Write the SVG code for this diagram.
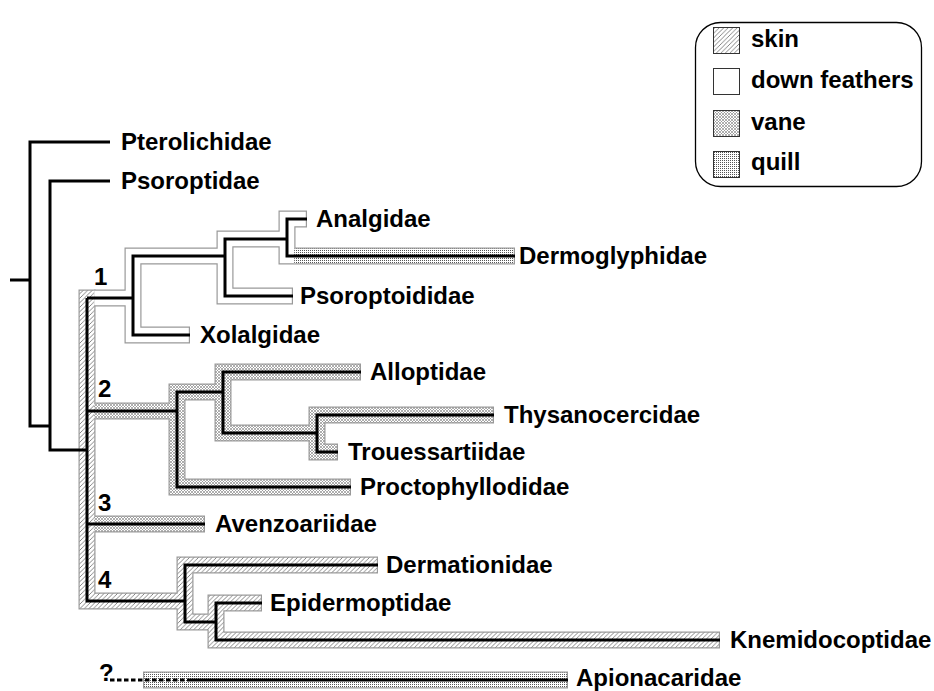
<svg xmlns="http://www.w3.org/2000/svg" width="934" height="691" viewBox="0 0 934 691">
<defs>
<pattern id="pSkin" patternUnits="userSpaceOnUse" width="4.5" height="4.5">
<rect width="4.5" height="4.5" fill="#fff"/>
<path d="M-1,1 L1,-1 M0,4.5 L4.5,0 M3.5,5.5 L5.5,3.5" stroke="#777" stroke-width="0.9"/>
</pattern>
<pattern id="pVane" patternUnits="userSpaceOnUse" width="3" height="3">
<rect width="3" height="3" fill="#fff"/>
<path d="M0,0 L3,3 M3,0 L0,3" stroke="#8c8c8c" stroke-width="0.7"/>
</pattern>
<pattern id="pQuill" patternUnits="userSpaceOnUse" width="2" height="2">
<rect width="2" height="2" fill="#fff"/>
<rect width="1" height="1" fill="#555"/>
</pattern>
</defs>
<style>
.txt{font-family:"Liberation Sans",Arial,sans-serif;font-weight:bold;font-size:24px;fill:#000}
.num{font-family:"Liberation Sans",Arial,sans-serif;font-weight:bold;font-size:24px;fill:#000}
.out{fill:none;stroke:#999;stroke-width:17;stroke-linejoin:miter;stroke-linecap:butt}
.in{fill:none;stroke-width:14.6;stroke-linejoin:miter;stroke-linecap:butt}
.skin{stroke:url(#pSkin)}
.down{stroke:#fff}
.vane{stroke:url(#pVane)}
.quill{stroke:url(#pQuill)}
.br{fill:none;stroke:#000;stroke-width:3;stroke-linejoin:miter;stroke-linecap:butt}
.sw{stroke:#333;stroke-width:1}
</style>
<rect width="934" height="691" fill="#fff"/>

<g id="bands">
<g id="band-outlines">
<path class="out" d="M87 289.5V601H185M378 565H185V622H216M262 603H216V640H720"/>
<path class="out" d="M94.3 298H133M190 335H133V256H225M293 296H225V239H287M307 219H287V256H294.5"/>
<path class="out" d="M94.3 411H177M351 487H177V392H223M361 372H223V433H317M494 415H317V452H338M94.3 524H205"/>
<path class="out" d="M294.3 256H515M143 680H568"/>
</g>
<g id="band-fills">
<path class="in skin" d="M87 290.7V601H185M376.8 565H185V622H216M260.8 603H216V640H718.8"/>
<path class="in down" d="M94.3 298H133M188.8 335H133V256H225M291.8 296H225V239H287M305.8 219H287V256H294.5"/>
<path class="in vane" d="M94.3 411H177M349.8 487H177V392H223M359.8 372H223V433H317M492.8 415H317V452H336.8M94.3 524H203.8"/>
<path class="in quill" d="M294.3 256H513.8M144.2 680H566.8"/>
</g>
</g>

<g id="connectors">
<path class="br" d="M10 280H30M110 142H30V426H50M110 181H50V450H87"/>
<path class="br" d="M87 298V601H185"/>
<path class="br" d="M87 298H133M190 335H133V256H225M293 296H225V239H287M307 219H287V256H515"/>
<path class="br" d="M87 411H177M351 487H177V392H223M361 372H223V433H317M494 415H317V452H338"/>
<path class="br" d="M87 524H205"/>
<path class="br" d="M378 565H185V622H216M262 603H216V640H720"/>
<path class="br" d="M188 680H568"/>
<path class="br" d="M110 680H188" stroke-dasharray="4.5 2.5"/>
</g>

<g id="clade-numbers">
<text class="num" x="94" y="285">1</text>
<text class="num" x="98" y="397">2</text>
<text class="num" x="98" y="511">3</text>
<text class="num" x="98" y="588">4</text>
</g>

<g id="node-pterolichidae"><text class="txt" x="121" y="150">Pterolichidae</text></g>
<g id="node-psoroptidae"><text class="txt" x="121" y="189">Psoroptidae</text></g>
<g id="node-analgidae"><text class="txt" x="316" y="227">Analgidae</text></g>
<g id="node-dermoglyphidae"><text class="txt" x="519" y="264">Dermoglyphidae</text></g>
<g id="node-psoroptoididae"><text class="txt" x="300" y="304">Psoroptoididae</text></g>
<g id="node-xolalgidae"><text class="txt" x="200" y="343">Xolalgidae</text></g>
<g id="node-alloptidae"><text class="txt" x="370" y="380">Alloptidae</text></g>
<g id="node-thysanocercidae"><text class="txt" x="504" y="423">Thysanocercidae</text></g>
<g id="node-trouessartiidae"><text class="txt" x="348" y="460">Trouessartiidae</text></g>
<g id="node-proctophyllodidae"><text class="txt" x="360" y="495">Proctophyllodidae</text></g>
<g id="node-avenzoariidae"><text class="txt" x="215" y="532">Avenzoariidae</text></g>
<g id="node-dermationidae"><text class="txt" x="386" y="573">Dermationidae</text></g>
<g id="node-epidermoptidae"><text class="txt" x="270" y="611">Epidermoptidae</text></g>
<g id="node-knemidocoptidae"><text class="txt" x="730" y="648">Knemidocoptidae</text></g>
<g id="node-apionacaridae"><text class="txt" x="99" y="681">?</text><text class="txt" x="576" y="686">Apionacaridae</text></g>

<g id="legend">
<rect x="695.5" y="22.5" width="226" height="164" rx="25" ry="25" fill="#fff" stroke="#000" stroke-width="1.3"/>
<rect class="sw" x="713.5" y="27.5" width="26" height="26" fill="url(#pSkin)"/>
<rect class="sw" x="713.5" y="68.5" width="26" height="26" fill="#fff"/>
<rect class="sw" x="713.5" y="110.5" width="26" height="26" fill="url(#pVane)"/>
<rect class="sw" x="713.5" y="151.5" width="26" height="26" fill="url(#pQuill)"/>
<text class="txt" x="751" y="47">skin</text>
<text class="txt" x="751" y="88">down feathers</text>
<text class="txt" x="751" y="130">vane</text>
<text class="txt" x="751" y="170">quill</text>
</g>
</svg>
